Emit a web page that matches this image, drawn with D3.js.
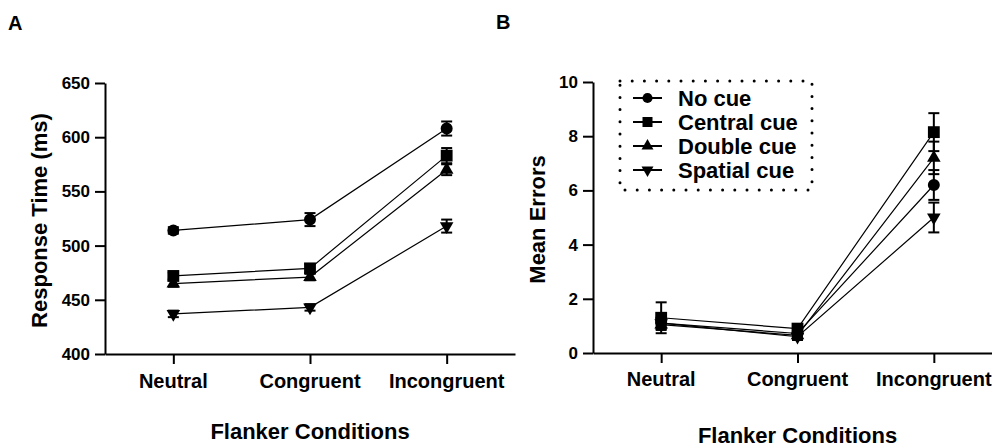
<!DOCTYPE html>
<html>
<head>
<meta charset="utf-8">
<script src="https://cdn.jsdelivr.net/npm/d3@7"></script>
<style>
  body { margin: 0; background: #fff; }
  svg text { font-family: "Liberation Sans", Arial, Helvetica, sans-serif; font-weight: bold; fill: #000; }
</style>
</head>
<body>
<svg id="chart" width="992" height="447"></svg>
<script>
"use strict";

/*
*  DATA
*/

var conditions = ["Neutral", "Congruent", "Incongruent"];
var cueNames = ["No cue", "Central cue", "Double cue", "Spatial cue"];

// panel A - response time (ms)
var rtNoCue = [514, 524, 608];
var rtCentral = [472, 479, 583];
var rtDouble = [465, 471, 570];
var rtSpatial = [437, 443, 518];
var rtErrNoCue = [3, 6, 6.5];
var rtErrCentral = [3, 4, 7];
var rtErrDouble = [3, 3, 5];
var rtErrSpatial = [3, 3, 6];
var rtTicks = [400, 450, 500, 550, 600, 650];

// panel B - mean errors
var errNoCue = [1.1, 0.72, 6.2];
var errCentral = [1.3, 0.9, 8.15];
var errDouble = [1.05, 0.65, 7.2];
var errSpatial = [1.1, 0.6, 5.0];
var errSemNoCue = [0.2, 0.12, 0.55];
var errSemCentral = [0.57, 0.12, 0.7];
var errSemDouble = [0.2, 0.12, 0.6];
var errSemSpatial = [0.2, 0.12, 0.55];
var errTicks = [0, 2, 4, 6, 8, 10];

/*
*  RUN
*/

var svg = d3.select("#chart");

var symbolTypes = ["circle", "square", "triUp", "triDown"];

drawPanel({
  letter: "A", letterX: 8, letterY: 30,
  left: 105, right: 515, top: 83, bottom: 354,
  domain: [400, 650], ticks: rtTicks,
  yTitle: "Response Time (ms)", yTitleX: 47,
  catY: 388, xTitleY: 439,
  means: [rtNoCue, rtCentral, rtDouble, rtSpatial],
  sems: [rtErrNoCue, rtErrCentral, rtErrDouble, rtErrSpatial]
});

drawPanel({
  letter: "B", letterX: 496, letterY: 29,
  left: 593, right: 1002, top: 82, bottom: 353,
  domain: [0, 10], ticks: errTicks,
  yTitle: "Mean Errors", yTitleX: 545,
  catY: 386, xTitleY: 443,
  means: [errNoCue, errCentral, errDouble, errSpatial],
  sems: [errSemNoCue, errSemCentral, errSemDouble, errSemSpatial]
});

drawLegend(620, 81, 812, 190);

/*
*  HELPERS
*/

function symbolPath(kind, big) {
  if (kind === "circle") return d3.symbol().type(d3.symbolCircle).size(big ? 113 : 80)();
  if (kind === "square") return d3.symbol().type(d3.symbolSquare).size(big ? 140 : 100)();
  return d3.symbol().type(d3.symbolTriangle).size(big ? 80 : 62)();
}

function drawMarker(g, kind, x, y, big) {
  var rot = kind === "triDown" ? " rotate(180)" : "";
  g.append("path")
    .attr("d", symbolPath(kind, big))
    .attr("transform", "translate(" + x + "," + y + ")" + rot)
    .attr("fill", "#000");
}

function drawPanel(p) {
  var g = svg.append("g");

  var x = d3.scalePoint().domain(conditions).range([p.left, p.right]).padding(0.5);
  var y = d3.scaleLinear().domain(p.domain).range([p.bottom, p.top]);

  // panel letter
  svg.append("text").attr("x", p.letterX).attr("y", p.letterY)
    .attr("font-size", 20).text(p.letter);

  // axes
  var yAxis = g.append("g")
    .attr("transform", "translate(" + p.left + ",0)")
    .call(d3.axisLeft(y).tickValues(p.ticks).tickSize(10).tickSizeOuter(0).tickPadding(5));
  var xAxis = g.append("g")
    .attr("transform", "translate(0," + p.bottom + ")")
    .call(d3.axisBottom(x).tickSize(10).tickSizeOuter(0).tickFormat(function () { return ""; }));

  [yAxis, xAxis].forEach(function (a) {
    a.select(".domain").attr("stroke", "#000").attr("stroke-width", 2);
    a.selectAll(".tick line").attr("stroke", "#000").attr("stroke-width", 2);
  });
  yAxis.selectAll(".tick text")
    .attr("font-size", 17).attr("font-family", null).attr("fill", "#000");

  // category labels
  g.selectAll(".cat").data(conditions).enter().append("text")
    .attr("class", "cat")
    .attr("x", function (d) { return x(d); })
    .attr("y", p.catY)
    .attr("text-anchor", "middle")
    .attr("font-size", 20)
    .text(function (d) { return d; });

  // axis titles
  g.append("text")
    .attr("x", (p.left + p.right) / 2)
    .attr("y", p.xTitleY)
    .attr("text-anchor", "middle")
    .attr("font-size", 22)
    .text("Flanker Conditions");
  g.append("text")
    .attr("transform", "translate(" + p.yTitleX + "," + ((p.top + p.bottom) / 2 + 2) + ") rotate(-90)")
    .attr("text-anchor", "middle")
    .attr("font-size", 22)
    .text(p.yTitle);

  var line = d3.line()
    .x(function (d, i) { return x(conditions[i]); })
    .y(function (d) { return y(d); });

  // connecting lines
  p.means.forEach(function (vals) {
    g.append("path")
      .attr("d", line(vals))
      .attr("fill", "none")
      .attr("stroke", "#000")
      .attr("stroke-width", 1.2);
  });

  // error bars
  p.means.forEach(function (vals, s) {
    vals.forEach(function (v, i) {
      var cx = x(conditions[i]);
      var e = p.sems[s][i];
      var y1 = y(v + e), y2 = y(v - e);
      g.append("line").attr("x1", cx).attr("x2", cx).attr("y1", y1).attr("y2", y2)
        .attr("stroke", "#000").attr("stroke-width", 2);
      [y1, y2].forEach(function (yy) {
        g.append("line").attr("x1", cx - 5.5).attr("x2", cx + 5.5).attr("y1", yy).attr("y2", yy)
          .attr("stroke", "#000").attr("stroke-width", 2);
      });
    });
  });

  // markers
  p.means.forEach(function (vals, s) {
    vals.forEach(function (v, i) {
      drawMarker(g, symbolTypes[s], x(conditions[i]), y(v), true);
    });
  });
}

function drawLegend(x0, y0, x1, y1) {
  var g = svg.append("g");
  g.append("rect")
    .attr("x", x0).attr("y", y0)
    .attr("width", x1 - x0).attr("height", y1 - y0)
    .attr("fill", "none")
    .attr("stroke", "#000")
    .attr("stroke-width", 3)
    .attr("stroke-linecap", "round")
    .attr("stroke-dasharray", "0 12.2");

  var rowY = [98, 122, 146, 170];
  cueNames.forEach(function (name, i) {
    g.append("line")
      .attr("x1", 633).attr("x2", 662)
      .attr("y1", rowY[i]).attr("y2", rowY[i])
      .attr("stroke", "#000").attr("stroke-width", 2);
    drawMarker(g, symbolTypes[i], 647.5, rowY[i], false);
    g.append("text")
      .attr("x", 678).attr("y", rowY[i] + 8)
      .attr("font-size", 22)
      .text(name);
  });
}
</script>
</body>
</html>
